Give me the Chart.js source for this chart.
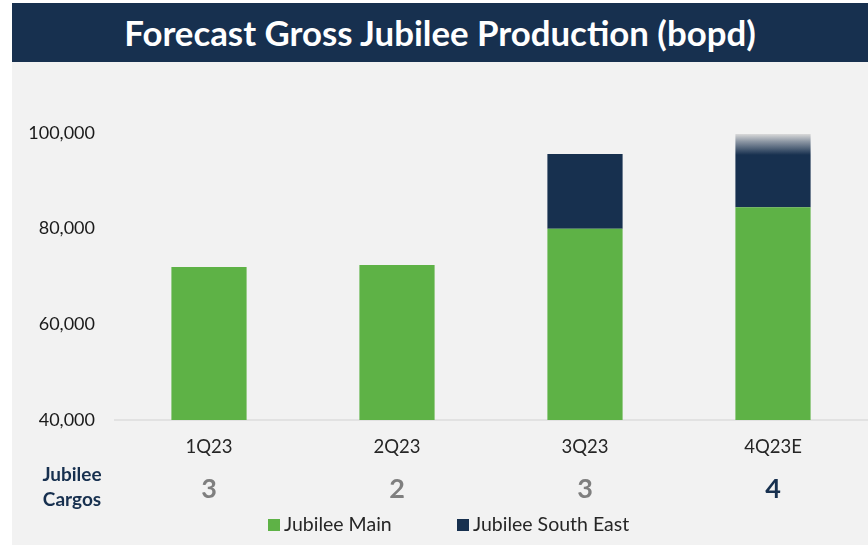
<!DOCTYPE html>
<html>
<head>
<meta charset="utf-8">
<script src="https://cdn.jsdelivr.net/npm/chart.js@4/dist/chart.umd.min.js"></script>
<style>
  html, body { margin: 0; padding: 0; background: #ffffff; }
  body { width: 868px; height: 545px; position: relative; overflow: hidden; }
  #title {
    position: absolute; left: 12px; top: 3px; width: 856px; height: 59px;
    background: #17304f; color: #ffffff; text-align: center;
    font: bold 34.8px Lato, "Open Sans", sans-serif; line-height: 59px;
  }
  #panel { position: absolute; left: 12px; top: 62px; width: 856px; height: 483px; background: #f2f2f2; }
  #chart { position: absolute; left: 0; top: 0; }
</style>
</head>
<body>
<div id="title">Forecast Gross Jubilee Production (bopd)</div>
<div id="panel"><canvas id="chart" width="856" height="483"></canvas></div>
<script>
const categories = ['1Q23', '2Q23', '3Q23', '4Q23E'];
const jubileeMain = [72000, 72400, 80000, 84500];
const jubileeSouthEast = [0, 0, 15600, 15300];
const cargos = [3, 2, 3, 4];
const seriesNames = ['Jubilee Main', 'Jubilee South East'];
const yTicks = [40000, 60000, 80000, 100000];
const cargoLabel = ['Jubilee', 'Cargos'];

const GREEN = '#5eb246';
const NAVY = '#17304f';
const GREY_NUM = '#7f7f7f';
const FONT = 'Lato, "Open Sans", sans-serif';
const estimateIndex = categories.length - 1;

function seColor(ctx) {
  if (ctx.type !== 'data' || ctx.dataIndex !== estimateIndex) return NAVY;
  const chart = ctx.chart;
  if (!chart.chartArea || !chart.scales.y) return NAVY;
  const i = ctx.dataIndex;
  const top = chart.scales.y.getPixelForValue(jubileeMain[i] + jubileeSouthEast[i]);
  const g = chart.ctx.createLinearGradient(0, top, 0, top + 21);
  g.addColorStop(0, '#dadada');
  g.addColorStop(0.35, '#8e98a5');
  g.addColorStop(1, NAVY);
  return g;
}

const extrasPlugin = {
  id: 'extras',
  afterDraw(chart) {
    const ctx = chart.ctx;
    const x = chart.scales.x;
    ctx.save();
    ctx.textAlign = 'center';
    ctx.textBaseline = 'middle';
    ctx.font = 'bold 19px ' + FONT;
    ctx.fillStyle = NAVY;
    ctx.fillText(cargoLabel[0], 60, 413);
    ctx.fillText(cargoLabel[1], 60, 438);
    ctx.font = 'bold 27px ' + FONT;
    cargos.forEach((c, i) => {
      ctx.fillStyle = i === estimateIndex ? NAVY : GREY_NUM;
      ctx.fillText(String(c), x.getPixelForValue(i), 427);
    });
    // legend
    const legendX = [256, 445];
    const colors = [GREEN, NAVY];
    ctx.textAlign = 'left';
    ctx.font = '19.5px ' + FONT;
    chart.data.datasets.forEach((ds, k) => {
      ctx.fillStyle = colors[k];
      ctx.fillRect(legendX[k], 457, 12, 12);
      ctx.fillStyle = '#262626';
      ctx.fillText(ds.label, legendX[k] + 16, 463);
    });
    ctx.restore();
  }
};

function build() {
  new Chart(document.getElementById('chart'), {
    type: 'bar',
    data: {
      labels: categories,
      datasets: [
        { label: seriesNames[0], data: jubileeMain, backgroundColor: GREEN, borderWidth: 0 },
        { label: seriesNames[1], data: jubileeSouthEast, backgroundColor: seColor, borderWidth: 0 }
      ]
    },
    options: {
      responsive: false,
      animation: false,
      devicePixelRatio: 1,
      layout: { padding: { top: 71, right: 1, left: 0, bottom: 0 } },
      datasets: { bar: { categoryPercentage: 1, barPercentage: 0.4 } },
      plugins: { legend: { display: false }, tooltip: { enabled: false }, title: { display: false } },
      scales: {
        x: {
          stacked: true,
          grid: { display: false, drawTicks: false },
          border: { display: true, color: '#e2e2e2', width: 2 },
          ticks: { padding: 16, color: '#262626', font: { family: FONT, size: 18.5 } },
          afterFit(s) { s.height = 125; }
        },
        y: {
          stacked: true,
          min: yTicks[0],
          max: yTicks[yTicks.length - 1],
          afterBuildTicks(s) { s.ticks = yTicks.map(v => ({ value: v })); },
          grid: { display: false, drawTicks: false },
          border: { display: false },
          ticks: {
            padding: 20, color: '#1a1a1a', font: { family: FONT, size: 18 },
            callback: v => Number(v).toLocaleString('en-US')
          },
          afterFit(s) { s.width = 103; }
        }
      }
    },
    plugins: [extrasPlugin]
  });
}
if (document.fonts && document.fonts.load) {
  Promise.all([document.fonts.load('17px Lato'), document.fonts.load('bold 17px Lato')]).then(build, build);
} else { build(); }
</script>
</body>
</html>
